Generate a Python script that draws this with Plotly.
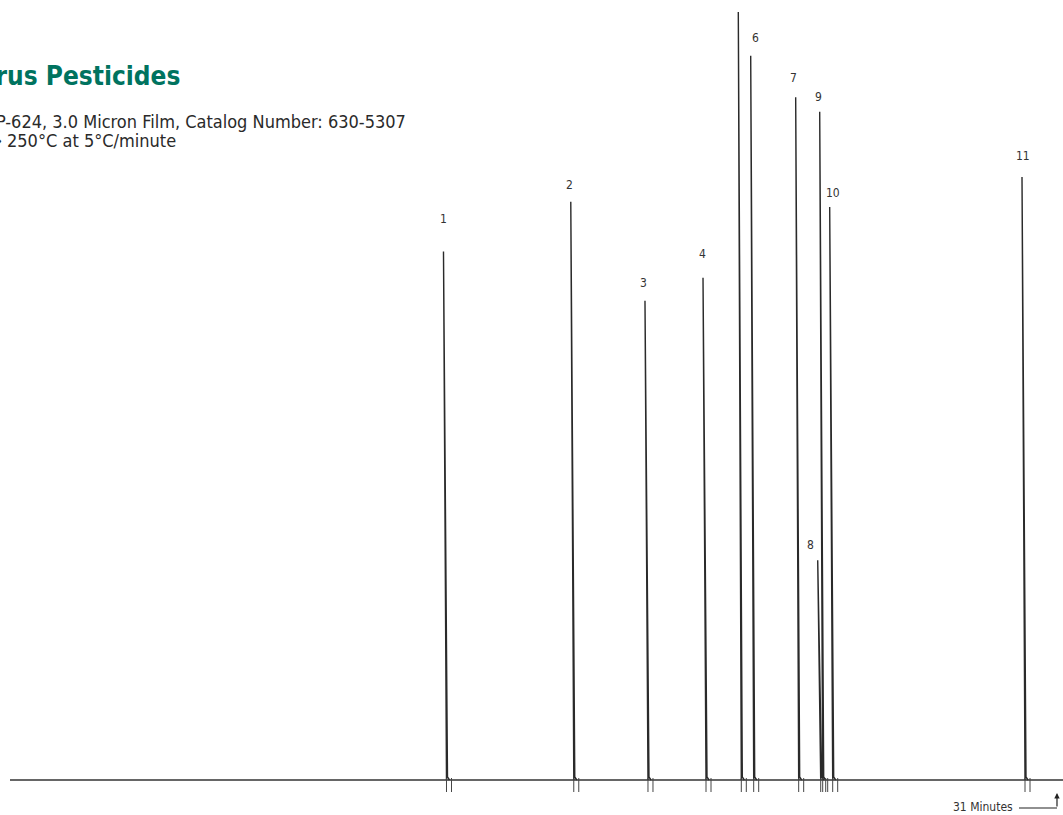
import plotly.graph_objects as go

# ---- data ----
peak_labels = ["1", "2", "3", "4", "5", "6", "7", "8", "9", "10", "11"]
retention_min = [12.835, 16.604, 18.801, 20.519, 21.564, 21.931, 23.263, 23.915, 23.974, 24.270, 29.964]
peak_height = [68.8, 75.3, 62.4, 65.4, 100.0, 94.3, 88.9, 28.6, 87.0, 74.6, 78.5]
run_end_min = 31

# ---- label placement styling (pixel offsets) ----
label_dy_px = [33, 17, 18, 24, 18, 18, 19, 15, 15, 14, 21]
label_dx_px = [0, -1, -1, -1, 0, 5, -2, -7, -1, 3, 1]

W, H = 1063, 815
PX_PER_MIN = 33.774
PX_PER_UNIT = 7.68
BASE_PX = 780
LEFT_PX = 10
PX = 1.0 / PX_PER_MIN          # one pixel in minutes
UY = 1.0 / PX_PER_UNIT         # one pixel in response units

x_range = [-LEFT_PX * PX, (W - LEFT_PX) * PX]
y_range = [-(H - BASE_PX) * UY, BASE_PX * UY]

ink = "#2a2a2a"
narrow = "DejaVu Sans Condensed, Liberation Sans Narrow, sans-serif"

fig = go.Figure()

# baseline
fig.add_trace(go.Scatter(x=[0, x_range[1] + 1], y=[0, 0], mode="lines",
                         line=dict(color="#333333", width=1.5), hoverinfo="skip"))

# peaks
for rt, h in zip(retention_min, peak_height):
    xs = [rt + 3 * PX, rt, rt + 4 * PX, rt + 6 * PX]
    ys = [0, h, 0.4, 0]
    fig.add_trace(go.Scatter(x=xs, y=ys, mode="lines",
                             line=dict(color=ink, width=1.4), hoverinfo="skip"))

# integration tick marks
tx, ty = [], []
for rt in retention_min:
    for off in (3, 8):
        tx += [rt + off * PX, rt + off * PX, None]
        ty += [2 * UY, -12 * UY, None]
fig.add_trace(go.Scatter(x=tx, y=ty, mode="lines",
                         line=dict(color="#444444", width=1), hoverinfo="skip"))

annotations = []
for lab, rt, h, dy, dx in zip(peak_labels, retention_min, peak_height, label_dy_px, label_dx_px):
    annotations.append(dict(x=rt + dx * PX, y=h + dy * UY, xref="x", yref="y",
                            text=lab, showarrow=False, xanchor="center", yanchor="middle",
                            font=dict(family=narrow, size=12, color="#333333")))

# title block (left part clipped by the page edge, as in the reference)
annotations.append(dict(x=182 / W, y=1 - 76 / H, xref="paper", yref="paper",
                        text="<b>Organophosphorus Pesticides</b>", showarrow=False,
                        xanchor="right", yanchor="middle",
                        font=dict(family=narrow, size=26, color="#00735f")))
annotations.append(dict(x=408 / W, y=1 - 121 / H, xref="paper", yref="paper",
                        text="Column: SP-624, 3.0 Micron Film, Catalog Number: 630-5307",
                        showarrow=False, xanchor="right", yanchor="middle",
                        font=dict(family=narrow, size=18, color="#2a2a2a")))
annotations.append(dict(x=178 / W, y=1 - 140 / H, xref="paper", yref="paper",
                        text="Oven: 40°C → 250°C at 5°C/minute",
                        showarrow=False, xanchor="right", yanchor="middle",
                        font=dict(family=narrow, size=18, color="#2a2a2a")))

# "31 Minutes" marker
y_mark = -28 * UY
annotations.append(dict(x=run_end_min - 42 * PX, y=y_mark + 1.5 * UY, xref="x", yref="y",
                        text="31 Minutes", showarrow=False, xanchor="right", yanchor="middle",
                        font=dict(family=narrow, size=12, color="#333333")))
annotations.append(dict(x=run_end_min, y=-13 * UY, xref="x", yref="y",
                        ax=run_end_min, ay=y_mark, axref="x", ayref="y",
                        text="", showarrow=True, arrowhead=2, arrowsize=0.9,
                        arrowwidth=1.2, arrowcolor="#222222"))

shapes = [dict(type="line", xref="x", yref="y", x0=run_end_min - 38 * PX, x1=run_end_min,
               y0=y_mark, y1=y_mark, line=dict(color="#222222", width=1.2))]

fig.update_layout(
    width=W, height=H,
    margin=dict(l=0, r=0, t=0, b=0),
    paper_bgcolor="white", plot_bgcolor="white",
    showlegend=False,
    xaxis=dict(range=x_range, visible=False, fixedrange=True),
    yaxis=dict(range=y_range, visible=False, fixedrange=True),
    annotations=annotations,
    shapes=shapes,
)

fig.write_html("out.html", config={"displayModeBar": False},
               post_script="document.body.style.margin='0';document.body.style.overflow='hidden';")
